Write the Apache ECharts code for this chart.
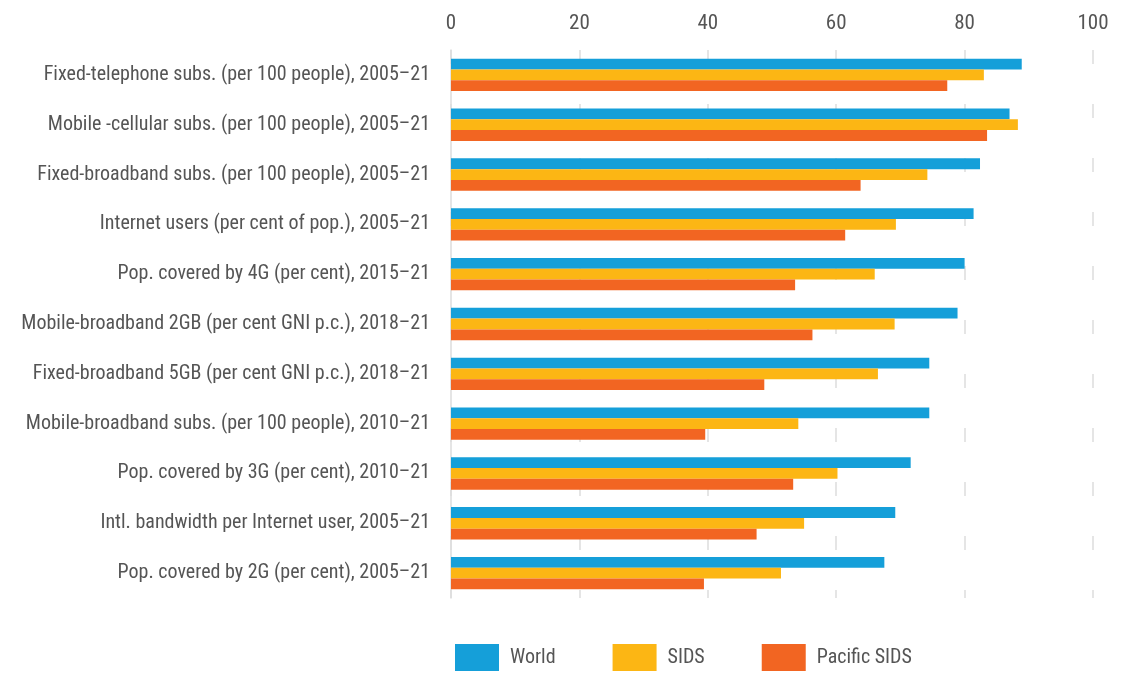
<!DOCTYPE html>
<html>
<head>
<meta charset="utf-8">
<script src="https://cdn.jsdelivr.net/npm/echarts@6/dist/echarts.min.js"></script>
<style>html,body{margin:0;padding:0;background:#fff}#c{width:1139px;height:675px}</style>
</head>
<body>
<div id="c"></div>
<script>
const categories = [
  "Fixed-telephone subs. (per 100 people), 2005\u201321",
  "Mobile -cellular subs. (per 100 people), 2005\u201321",
  "Fixed-broadband subs. (per 100 people), 2005\u201321",
  "Internet users (per cent of pop.), 2005\u201321",
  "Pop. covered by 4G (per cent), 2015\u201321",
  "Mobile-broadband 2GB (per cent GNI p.c.), 2018\u201321",
  "Fixed-broadband 5GB (per cent GNI p.c.), 2018\u201321",
  "Mobile-broadband subs. (per 100 people), 2010\u201321",
  "Pop. covered by 3G (per cent), 2010\u201321",
  "Intl. bandwidth per Internet user, 2005\u201321",
  "Pop. covered by 2G (per cent), 2005\u201321"
];
const world   = [88.9, 87.0, 82.4, 81.4, 80.0, 78.9, 74.5, 74.5, 71.6, 69.2, 67.5];
const sids    = [83.0, 88.3, 74.2, 69.3, 66.0, 69.1, 66.5, 54.1, 60.2, 55.0, 51.4];
const pacific = [77.3, 83.5, 63.8, 61.4, 53.6, 56.3, 48.8, 39.6, 53.3, 47.6, 39.4];
const seriesNames = ["World", "SIDS", "Pacific SIDS"];
const xTicks = {min: 0, max: 100, interval: 20};

const font = "'Liberation Sans Narrow', 'Roboto Condensed', 'Liberation Sans', sans-serif";
const colors = ["#159fd9", "#fcb614", "#f26522"];
const chart = echarts.init(document.getElementById('c'));
const mk = (name, data, i) => ({
  name, type: 'bar', data, barGap: '0%', barCategoryGap: '35%',
  itemStyle: {color: colors[i]}
});
chart.setOption({
  animation: false,
  textStyle: {fontFamily: font},
  grid: {left: 451, right: 46, top: 50, bottom: 77},
  legend: {
    bottom: 4, left: 455, padding: 0, itemWidth: 44, itemHeight: 27, itemGap: 57,
    icon: 'rect',
    textStyle: {fontFamily: font, fontSize: 20, color: '#555', padding: [0, 0, 0, 6]},
    data: seriesNames
  },
  xAxis: {
    type: 'value', position: 'top', min: xTicks.min, max: xTicks.max, interval: xTicks.interval,
    axisLine: {show: false}, axisTick: {show: false},
    axisLabel: {fontFamily: font, fontSize: 21, color: '#555', margin: 16},
    splitLine: {show: true, lineStyle: {color: '#ddd', type: [14, 40], width: 1.5}}
  },
  yAxis: {
    type: 'category', data: categories, inverse: true,
    axisLine: {show: true, lineStyle: {color: '#ddd', width: 1.5}},
    axisTick: {show: false},
    axisLabel: {fontFamily: font, fontSize: 20, color: '#555', margin: 21}
  },
  series: [mk(seriesNames[0], world, 0), mk(seriesNames[1], sids, 1), mk(seriesNames[2], pacific, 2)]
});
</script>
</body>
</html>
